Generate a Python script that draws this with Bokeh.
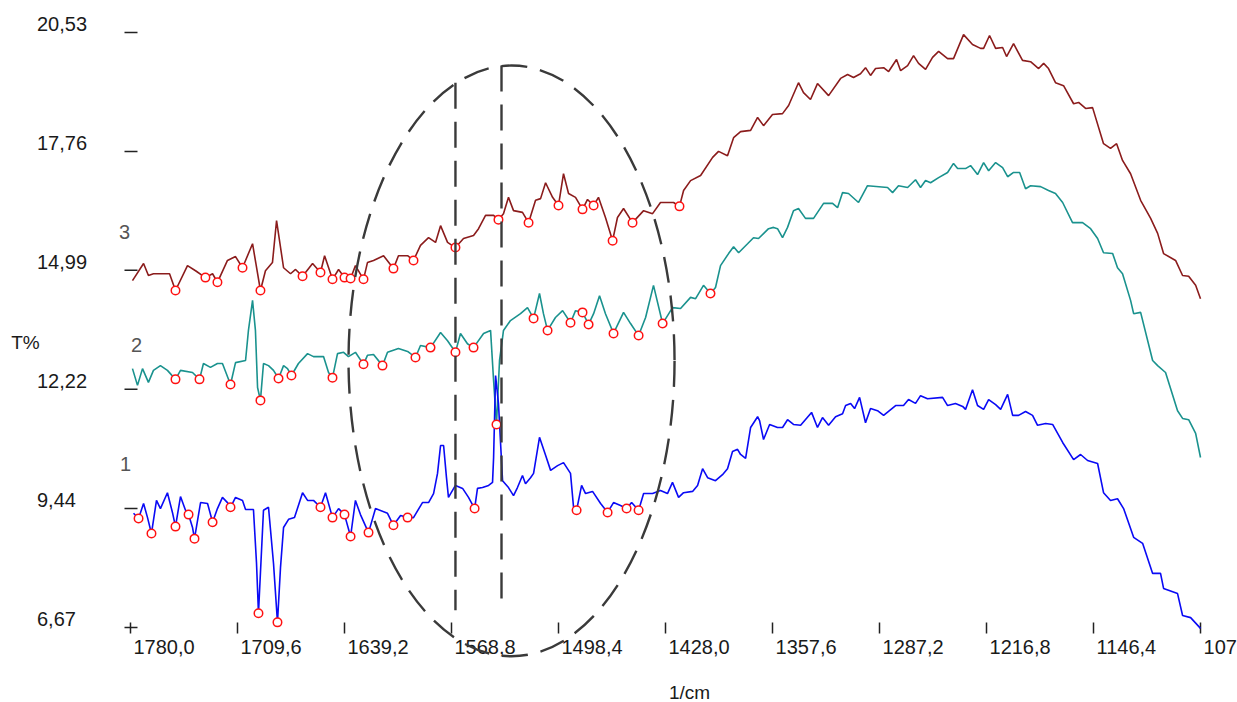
from bokeh.plotting import figure
from bokeh.models import Range1d, Label
from bokeh.core.properties import value
from bokeh.embed import file_html
from bokeh.resources import INLINE

# Axis ticks (wavenumber in 1/cm, transmittance in T%)
x_ticks = [1780.0, 1709.6, 1639.2, 1568.8, 1498.4, 1428.0, 1357.6, 1287.2, 1216.8, 1146.4, 1076.0]
x_tick_labels = ["1780,0", "1709,6", "1639,2", "1568,8", "1498,4", "1428,0",
                 "1357,6", "1287,2", "1216,8", "1146,4", "1076,0"]
y_ticks = [6.67, 9.44, 12.22, 14.99, 17.76, 20.53]
y_tick_labels = ["6,67", "9,44", "12,22", "14,99", "17,76", "20,53"]

# Spectrum 3 (top)
wn3 = [1778.7, 1771.4, 1768.2, 1764.9, 1754.3, 1750.4, 1742.5, 1737.2, 1730.7, 1726.0,
       1722.8, 1716.2, 1710.9, 1706.3, 1699.7, 1694.5, 1691.2, 1686.6, 1683.9, 1679.3,
       1674.7, 1671.4, 1666.8, 1660.2, 1655.0, 1652.3, 1647.1, 1643.1, 1639.2, 1635.2,
       1632.0, 1626.7, 1624.1, 1620.1, 1613.5, 1607.0, 1603.7, 1597.7, 1593.8, 1589.2,
       1583.9, 1579.3, 1576.0, 1571.4, 1566.2, 1560.9, 1554.3, 1551.0, 1546.4, 1541.1,
       1537.9, 1534.6, 1531.3, 1528.0, 1522.1, 1518.1, 1513.5, 1510.2, 1506.9, 1502.3,
       1498.4, 1495.1, 1491.8, 1487.2, 1482.6, 1479.3, 1475.3, 1472.1, 1467.5, 1462.8,
       1459.6, 1455.6, 1449.7, 1442.4, 1436.5, 1431.3, 1422.7, 1418.8, 1416.1, 1411.5,
       1404.9, 1397.0, 1393.1, 1387.2, 1383.2, 1378.6, 1372.0, 1367.4, 1363.5, 1357.6,
       1351.0, 1347.0, 1340.5, 1337.2, 1332.6, 1328.0, 1320.7, 1312.8, 1308.2, 1304.3,
       1299.7, 1296.4, 1293.1, 1289.8, 1284.5, 1281.2, 1276.0, 1273.3, 1268.7, 1264.8,
       1261.5, 1256.9, 1252.3, 1248.3, 1242.4, 1238.5, 1231.9, 1226.0, 1220.7, 1218.7,
       1214.8, 1210.8, 1206.2, 1203.6, 1199.0, 1193.1, 1187.8, 1182.5, 1179.2, 1176.0,
       1171.4, 1166.1, 1159.5, 1156.2, 1151.6, 1147.0, 1139.8, 1135.2, 1131.2, 1127.3,
       1122.0, 1115.4, 1108.8, 1104.2, 1100.3, 1092.4, 1087.8, 1083.8, 1079.2, 1076.0]
t3 = [14.75, 15.15, 14.87, 14.91, 14.91, 14.52, 15.10, 14.98, 14.82, 14.91,
      14.71, 15.22, 15.31, 15.05, 15.61, 14.52, 14.98, 15.17, 16.15, 15.05,
      14.91, 15.01, 14.85, 15.15, 14.94, 15.33, 14.78, 15.01, 14.82, 14.80,
      15.10, 14.78, 15.17, 15.22, 15.33, 15.03, 15.33, 15.33, 15.22, 15.57,
      15.75, 15.64, 16.03, 15.64, 15.52, 15.73, 15.80, 15.96, 16.27, 16.27,
      16.17, 16.31, 16.69, 16.38, 16.34, 16.10, 16.62, 16.66, 17.03, 16.69,
      16.50, 17.24, 16.78, 16.69, 16.41, 16.64, 16.50, 16.69, 16.22, 15.68,
      16.22, 16.43, 16.10, 16.38, 16.31, 16.57, 16.57, 16.48, 16.85, 17.08,
      17.20, 17.62, 17.76, 17.66, 18.08, 18.22, 18.25, 18.55, 18.36, 18.62,
      18.64, 18.83, 19.36, 19.13, 18.97, 19.34, 19.06, 19.46, 19.55, 19.48,
      19.57, 19.71, 19.53, 19.69, 19.71, 19.62, 19.90, 19.64, 19.76, 19.99,
      19.81, 19.67, 19.95, 20.09, 19.92, 19.92, 20.48, 20.25, 20.16, 20.16,
      20.46, 20.16, 20.18, 19.97, 20.27, 19.88, 19.85, 19.69, 19.81, 19.69,
      19.36, 19.29, 18.87, 18.90, 18.76, 18.78, 17.94, 17.83, 17.94, 17.55,
      17.24, 16.62, 16.20, 15.85, 15.38, 15.22, 14.87, 14.85, 14.64, 14.33]
peaks3 = [5, 8, 10, 13, 15, 22, 24, 26, 28, 29, 31, 35, 38, 44, 50, 55, 60, 64, 66, 69, 72, 77]

# Spectrum 2 (middle)
wn2 = [1778.7, 1775.4, 1772.1, 1768.2, 1764.9, 1760.3, 1755.7, 1750.4, 1747.1, 1739.2,
       1734.6, 1732.0, 1727.4, 1722.8, 1719.5, 1714.2, 1710.9, 1704.3, 1702.4, 1699.7,
       1697.8, 1696.4, 1694.5, 1692.5, 1689.2, 1685.9, 1682.6, 1679.3, 1676.7, 1674.1,
       1669.5, 1663.5, 1659.6, 1653.0, 1649.7, 1647.1, 1643.8, 1639.8, 1636.6, 1632.0,
       1626.7, 1624.1, 1620.1, 1614.2, 1610.9, 1603.7, 1597.7, 1592.5, 1589.2, 1582.6,
       1576.0, 1571.4, 1566.2, 1562.9, 1558.3, 1554.3, 1547.7, 1543.1, 1541.1, 1539.2,
       1537.2, 1535.2, 1534.6, 1530.0, 1523.4, 1518.8, 1514.8, 1510.9, 1508.3, 1505.6,
       1500.4, 1495.7, 1490.5, 1487.2, 1482.6, 1478.6, 1475.3, 1471.4, 1467.5, 1462.2,
       1455.6, 1451.0, 1445.7, 1441.1, 1435.9, 1429.9, 1423.4, 1418.1, 1411.5, 1408.2,
       1403.0, 1398.4, 1395.1, 1391.8, 1386.5, 1383.2, 1379.9, 1374.0, 1370.1, 1366.8,
       1360.2, 1356.9, 1354.3, 1351.0, 1347.7, 1343.8, 1340.5, 1335.9, 1330.6, 1324.0,
       1318.1, 1314.8, 1311.5, 1307.6, 1301.0, 1295.1, 1281.9, 1278.6, 1274.7, 1268.7,
       1263.5, 1260.2, 1256.9, 1253.6, 1248.3, 1242.4, 1238.5, 1235.8, 1230.6, 1227.3,
       1222.7, 1218.7, 1215.4, 1210.8, 1206.2, 1202.9, 1199.0, 1195.0, 1191.1, 1187.8,
       1181.2, 1176.0, 1171.4, 1166.7, 1160.2, 1153.6, 1148.3, 1143.7, 1139.8, 1133.8,
       1130.6, 1127.3, 1122.0, 1120.0, 1115.4, 1107.5, 1104.2, 1099.0, 1091.1, 1087.8,
       1083.8, 1079.2, 1076.0]
t2 = [12.70, 12.31, 12.70, 12.38, 12.66, 12.77, 12.66, 12.45, 12.66, 12.61,
      12.45, 12.82, 12.73, 12.82, 12.82, 12.33, 12.84, 12.89, 13.59, 14.29,
      13.59, 12.26, 11.96, 12.82, 12.77, 12.66, 12.47, 12.77, 12.70, 12.54,
      12.82, 13.05, 12.98, 12.98, 12.61, 12.49, 13.05, 13.08, 12.98, 13.08,
      12.80, 13.01, 13.03, 12.77, 13.08, 13.17, 13.10, 12.96, 13.24, 13.19,
      13.54, 13.35, 13.08, 13.52, 13.28, 13.19, 13.52, 13.59, 12.42, 11.40,
      12.89, 13.42, 13.59, 13.82, 13.98, 14.12, 13.87, 14.45, 13.98, 13.59,
      13.89, 14.05, 13.77, 14.05, 14.01, 13.73, 13.98, 14.40, 13.98, 13.52,
      14.01, 13.75, 13.47, 13.89, 14.64, 13.75, 14.12, 14.10, 14.36, 14.33,
      14.64, 14.45, 14.59, 15.10, 15.38, 15.54, 15.40, 15.61, 15.75, 15.73,
      15.96, 15.99, 15.96, 15.75, 15.99, 16.38, 16.43, 16.20, 16.20, 16.55,
      16.55, 16.45, 16.80, 16.78, 16.57, 16.96, 16.92, 16.80, 16.96, 16.92,
      17.10, 16.92, 17.08, 17.03, 17.15, 17.27, 17.48, 17.36, 17.36, 17.43,
      17.22, 17.50, 17.31, 17.50, 17.38, 17.17, 17.27, 17.27, 16.89, 16.96,
      16.94, 16.85, 16.78, 16.57, 16.10, 16.10, 15.96, 15.73, 15.40, 15.38,
      15.05, 14.91, 14.29, 13.98, 14.01, 12.89, 12.77, 12.61, 11.72, 11.54,
      11.51, 11.19, 10.63]
peaks2 = [7, 10, 15, 22, 26, 29, 35, 40, 43, 47, 49, 52, 55, 59, 66, 69, 72, 74, 75, 79, 82, 85, 91]

# Spectrum 1 (bottom)
wn1 = [1778.0, 1774.7, 1771.4, 1768.8, 1766.2, 1762.9, 1760.3, 1755.7, 1752.4, 1750.4,
       1747.1, 1743.8, 1741.8, 1739.2, 1737.9, 1733.9, 1729.3, 1726.0, 1722.8, 1719.5,
       1716.2, 1714.2, 1710.9, 1706.3, 1704.3, 1699.1, 1697.1, 1695.8, 1692.5, 1689.2,
       1685.9, 1683.3, 1681.3, 1679.3, 1676.0, 1672.1, 1666.8, 1663.5, 1659.6, 1655.0,
       1651.7, 1647.1, 1643.1, 1639.2, 1635.2, 1632.0, 1628.7, 1623.4, 1618.8, 1610.9,
       1607.0, 1602.3, 1597.7, 1593.8, 1587.9, 1583.9, 1580.6, 1578.0, 1576.0, 1574.0,
       1572.1, 1570.8, 1566.2, 1561.5, 1557.6, 1553.6, 1551.7, 1548.4, 1544.4, 1541.8,
       1541.1, 1539.8, 1537.9, 1535.2, 1531.3, 1528.0, 1525.4, 1522.1, 1520.1, 1516.8,
       1514.8, 1510.9, 1506.9, 1503.6, 1499.0, 1495.1, 1490.5, 1488.5, 1486.5, 1483.2,
       1480.6, 1476.0, 1470.7, 1466.1, 1462.2, 1457.6, 1453.6, 1450.3, 1445.7, 1442.4,
       1436.5, 1431.3, 1426.7, 1423.4, 1419.4, 1416.1, 1410.2, 1406.9, 1403.6, 1400.3,
       1395.1, 1390.5, 1387.2, 1383.9, 1380.6, 1378.6, 1375.3, 1372.0, 1367.4, 1366.1,
       1363.5, 1359.5, 1354.3, 1351.0, 1347.7, 1343.8, 1339.1, 1331.9, 1328.0, 1324.7,
       1320.7, 1316.1, 1311.5, 1309.5, 1306.2, 1303.6, 1300.3, 1296.4, 1293.1, 1288.5,
       1284.5, 1276.6, 1271.4, 1268.1, 1263.5, 1260.2, 1255.6, 1245.7, 1242.4, 1237.2,
       1232.5, 1230.6, 1226.0, 1222.7, 1218.7, 1215.4, 1210.8, 1207.5, 1202.9, 1199.6,
       1195.7, 1191.1, 1186.5, 1183.2, 1177.9, 1173.3, 1166.7, 1159.5, 1154.9, 1150.3,
       1143.7, 1139.8, 1135.2, 1130.6, 1126.6, 1120.0, 1114.1, 1107.5, 1102.3, 1100.3,
       1091.1, 1087.8, 1082.5, 1076.0]
t1 = [9.33, 9.21, 9.56, 9.23, 8.86, 9.63, 9.44, 9.81, 9.35, 9.02,
      9.72, 9.40, 9.30, 9.00, 8.74, 9.58, 9.56, 9.12, 9.44, 9.70,
      9.58, 9.47, 9.70, 9.63, 9.42, 9.42, 8.18, 7.00, 9.40, 9.47,
      8.16, 6.79, 8.07, 9.00, 9.19, 9.23, 9.81, 9.63, 9.63, 9.47,
      9.81, 9.23, 9.44, 9.30, 8.79, 9.63, 9.30, 8.88, 9.44, 9.33,
      9.05, 9.28, 9.23, 9.23, 9.58, 9.58, 9.79, 10.26, 10.91, 10.91,
      10.16, 9.70, 9.98, 9.91, 9.70, 9.44, 9.91, 9.93, 9.98, 10.05,
      10.63, 12.54, 11.89, 10.09, 9.93, 9.74, 9.93, 10.21, 10.02, 10.16,
      10.26, 11.10, 10.68, 10.33, 10.44, 10.51, 10.26, 9.47, 9.40, 9.98,
      9.79, 9.84, 9.56, 9.35, 9.58, 9.51, 9.44, 9.58, 9.40, 9.79,
      9.79, 9.86, 9.79, 10.05, 9.70, 9.81, 9.84, 9.98, 10.37, 10.16,
      10.09, 10.23, 10.37, 10.77, 10.82, 10.70, 10.61, 11.33, 11.58, 11.49,
      11.05, 11.40, 11.33, 11.33, 11.51, 11.40, 11.38, 11.68, 11.33, 11.56,
      11.38, 11.58, 11.65, 11.84, 11.89, 11.77, 12.03, 11.44, 11.77, 11.72,
      11.61, 11.84, 11.84, 11.98, 11.89, 12.07, 12.00, 12.03, 11.84, 11.89,
      11.82, 11.75, 12.21, 11.84, 11.75, 11.98, 11.86, 11.75, 12.10, 11.61,
      11.61, 11.70, 11.61, 11.38, 11.42, 11.40, 10.98, 10.58, 10.70, 10.56,
      10.49, 9.81, 9.63, 9.67, 9.44, 8.77, 8.63, 7.93, 7.93, 7.58,
      7.46, 6.95, 6.90, 6.65]
peaks1 = [1, 4, 9, 12, 14, 17, 21, 27, 31, 39, 41, 43, 44, 47, 50, 52, 65, 88, 93, 96, 98]

FONT = "Liberation Sans"
INK = "#1a1a1a"
DASH = "#3a3a3a"

# pixels per data unit of the plotting area
PX_X = 1070.0 / 704.0
PX_Y = 595.0 / 13.86

p = figure(width=1237, height=702, title=None,
           x_range=Range1d(1865.53, 1051.66), y_range=Range1d(4.923, 21.275),
           x_axis_location=None, y_axis_location=None,
           output_backend="svg", toolbar_location=None,
           min_border_left=0, min_border_right=0, min_border_top=0, min_border_bottom=0)
p.xgrid.visible = False
p.ygrid.visible = False
p.outline_line_color = None
p.background_fill_color = "white"
p.border_fill_color = "white"

x0_axis = x_ticks[0]
y0_axis = y_ticks[0]
nx, ny = len(x_ticks), len(y_ticks)

# tick marks of both scales (they cross at the origin as a "+")
p.segment(x0=x_ticks, x1=x_ticks,
          y0=[y0_axis + 5 / PX_Y] * nx, y1=[y0_axis - 6 / PX_Y] * nx,
          line_color="#222222", line_width=1.5)
p.segment(x0=[x0_axis + 6 / PX_X] * ny, x1=[x0_axis - 7 / PX_X] * ny,
          y0=y_ticks, y1=y_ticks, line_color="#222222", line_width=1.5)

# tick labels: wavenumbers start at their tick, transmittance sits above its tick
p.text(x=[v - 3 / PX_X for v in x_ticks], y=[y0_axis - 19.7 / PX_Y] * nx, text=x_tick_labels,
       text_align="left", text_baseline="middle", text_font=value(FONT),
       text_font_size=value("20px"), text_color=INK)
p.text(x=[x0_axis + 93.5 / PX_X] * ny, y=[v + 8.5 / PX_Y for v in y_ticks], text=y_tick_labels,
       text_align="left", text_baseline="middle", text_font=value(FONT),
       text_font_size=value("20px"), text_color=INK)

# spectra
series = [(wn3, t3, peaks3, "#8b1c1c"), (wn2, t2, peaks2, "#1a928e"), (wn1, t1, peaks1, "#0a0af5")]
for wn, t, peaks, color in series:
    p.line(wn, t, line_color=color, line_width=1.6)
for wn, t, peaks, color in series:
    p.scatter([wn[i] for i in peaks], [t[i] for i in peaks], marker="circle", size=8.5,
              line_color="#ff1010", line_width=1.5, fill_color="white")

# highlighted region
p.ellipse(x=[1529.3], y=[12.88], width=[214.5], height=[13.76], fill_color=None,
          line_color=DASH, line_width=2.4, line_dash="26 13")
p.segment(x0=[1566.2, 1535.9], y0=[19.36, 19.76], x1=[1566.2, 1535.9], y1=[7.07, 7.07],
          line_color=DASH, line_width=2.4, line_dash="26 13")

# series numbers and axis titles
for txt, x, y in [("3", 1783.9, 15.89), ("2", 1776.0, 13.26), ("1", 1783.3, 10.49)]:
    p.add_layout(Label(x=x, y=y, text=txt, text_align="center", text_baseline="middle",
                       text_font=FONT, text_font_size="20px", text_color="#555555"))
p.add_layout(Label(x=1849.1, y=13.31, text="T%", text_align="center", text_baseline="middle",
                   text_font=FONT, text_font_size="19px", text_color=INK))
p.add_layout(Label(x=1412.2, y=5.16, text="1/cm", text_align="center", text_baseline="middle",
                   text_font=FONT, text_font_size="19px", text_color=INK))

open("out.html", "w").write(file_html(p, INLINE))
